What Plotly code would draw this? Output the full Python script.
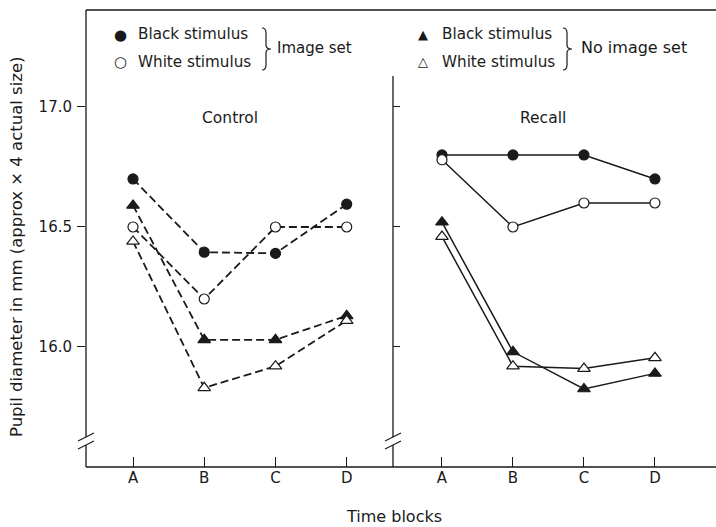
import plotly.graph_objects as go

# ---------------- data ----------------
blocks = ["A", "B", "C", "D"]
block_pos = [1, 2, 3, 4]

# Control panel (dashed lines)
control_black_circle = [16.70, 16.395, 16.39, 16.595]
control_white_circle = [16.50, 16.20, 16.50, 16.50]
control_black_triangle = [16.59, 16.03, 16.03, 16.13]
control_white_triangle = [16.44, 15.83, 15.92, 16.11]

# Recall panel (solid lines)
recall_black_circle = [16.80, 16.80, 16.80, 16.70]
recall_white_circle = [16.78, 16.50, 16.60, 16.60]
recall_black_triangle = [16.52, 15.98, 15.825, 15.89]
recall_white_triangle = [16.46, 15.92, 15.91, 15.955]

y_tick_vals = [16.0, 16.5, 17.0]
y_tick_text = ["16.0", "16.5", "17.0"]

# ---------------- layout helpers (pixels -> paper) ----------------
W, H = 716, 527
L, R, T, B = 86, 0, 10, 60
PW, PH = W - L - R, H - T - B
def xp(px):
    return (px - L) / PW
def yp(py):
    return (H - B - py) / PH

INK = "#1a1a1a"
FONT = "DejaVu Sans"

fig = go.Figure()

series = [
    ("x", "y", control_black_circle, "circle", INK, "dash"),
    ("x", "y", control_white_circle, "circle", "white", "dash"),
    ("x", "y", control_black_triangle, "triangle-up", INK, "dash"),
    ("x", "y", control_white_triangle, "triangle-up", "white", "dash"),
    ("x2", "y2", recall_black_circle, "circle", INK, "solid"),
    ("x2", "y2", recall_white_circle, "circle", "white", "solid"),
    ("x2", "y2", recall_black_triangle, "triangle-up", INK, "solid"),
    ("x2", "y2", recall_white_triangle, "triangle-up", "white", "solid"),
]

# lines first
for xa, ya, vals, sym, fill, dash in series:
    fig.add_trace(go.Scatter(
        x=block_pos, y=vals, xaxis=xa, yaxis=ya, mode="lines",
        line=dict(color=INK, width=1.8 if dash == "dash" else 1.5,
                  dash="8px,4px" if dash == "dash" else "solid"),
        showlegend=False, hoverinfo="skip"))
# markers on top
for xa, ya, vals, sym, fill, dash in series:
    fig.add_trace(go.Scatter(
        x=block_pos, y=vals, xaxis=xa, yaxis=ya, mode="markers",
        marker=dict(symbol=sym, size=10 if sym == "circle" else 11,
                    color=fill, line=dict(color=INK, width=1.2)),
        showlegend=False))

shapes = []
def seg(x0, y0, x1, y1, w=1.3):
    shapes.append(dict(type="line", xref="paper", yref="paper",
                       x0=xp(x0), y0=yp(y0), x1=xp(x1), y1=yp(y1),
                       line=dict(color=INK, width=w)))

# frame
seg(86, 10, 716, 10)          # top
seg(86, 467, 716, 467)        # bottom
seg(86, 10, 86, 437)          # left upper
seg(86, 445, 86, 467)         # left lower
seg(393, 76, 393, 437)        # divider upper
seg(393, 445, 393, 467)       # divider lower
# axis breaks
for cx in (86, 393):
    seg(cx - 8, 441, cx + 8, 433, 1.1)
    seg(cx - 8, 449, cx + 8, 441, 1.1)

# braces
def brace(x, ytop, ybot, depth=5):
    ym = (ytop + ybot) / 2
    pts = [
        ("M", x - 1, ytop),
        ("Q", x + 3, ytop, x + 3, ytop + 5),
        ("L", x + 3, ym - 4),
        ("Q", x + 3, ym, x + 3 + depth, ym),
        ("Q", x + 3, ym, x + 3, ym + 4),
        ("L", x + 3, ybot - 5),
        ("Q", x + 3, ybot, x - 1, ybot),
    ]
    p = ""
    for item in pts:
        cmd = item[0]
        coords = item[1:]
        cs = []
        for i in range(0, len(coords), 2):
            cs.append(f"{xp(coords[i]):.5f},{yp(coords[i+1]):.5f}")
        p += cmd + " " + " ".join(cs) + " "
    shapes.append(dict(type="path", xref="paper", yref="paper", path=p.strip(),
                       line=dict(color=INK, width=1.2)))

brace(263, 28, 70)
brace(564, 28, 70)

annotations = []
def text(px, py, s, size=14, anchor="left", angle=0):
    annotations.append(dict(xref="paper", yref="paper", x=xp(px), y=yp(py),
                            text=s, showarrow=False, xanchor=anchor, yanchor="middle",
                            textangle=angle,
                            font=dict(family=FONT, size=size, color=INK)))

# legend symbols
text(120, 35, "●", 15, "center")
text(120, 62, "○", 15, "center")
text(423, 35, "▲", 13, "center")
text(423, 62, "△", 13, "center")
text(136, 34, "Black stimulus", 15.2)
text(136, 62, "White stimulus", 15.2)
text(440, 34, "Black stimulus", 15.2)
text(440, 62, "White stimulus", 15.2)
text(275, 48, "Image set", 15)
text(579, 48, "No image set", 16)
# panel labels
text(230, 118, "Control", 15.5, "center")
text(543, 118, "Recall", 15.5, "center")
# axis titles
text(394, 516, "Time blocks", 16, "center")
text(17, 247, "Pupil diameter in mm (approx × 4 actual size)", 16.5, "center", -90)

axis_font = dict(family=FONT, size=15, color=INK)
fig.update_layout(
    width=W, height=H,
    margin=dict(l=L, r=R, t=T, b=B),
    paper_bgcolor="white", plot_bgcolor="white",
    showlegend=False,
    shapes=shapes, annotations=annotations,
    xaxis=dict(domain=[0, 307 / 630], range=[0.34, 4.65], anchor="y",
               tickvals=block_pos, ticktext=blocks, ticks="inside", ticklen=10,
               tickcolor=INK, tickwidth=1.2, showline=False, showgrid=False,
               zeroline=False, tickfont=axis_font),
    xaxis2=dict(domain=[307 / 630, 1], range=[0.31, 4.86], anchor="y2",
                tickvals=block_pos, ticktext=blocks, ticks="inside", ticklen=10,
                tickcolor=INK, tickwidth=1.2, showline=False, showgrid=False,
                zeroline=False, tickfont=axis_font),
    yaxis=dict(domain=[0, 1], range=[15.5, 17.404], anchor="x",
               tickvals=y_tick_vals, ticktext=y_tick_text, ticks="outside",
               ticklen=8, tickcolor=INK, tickwidth=1.2, showline=False,
               showgrid=False, zeroline=False, tickfont=axis_font,
               ticklabelstandoff=2),
    yaxis2=dict(domain=[0, 1], range=[15.5, 17.404], anchor="x2",
                tickvals=y_tick_vals, ticks="inside", ticklen=7,
                tickcolor=INK, tickwidth=1.2, showticklabels=False,
                showline=False, showgrid=False, zeroline=False),
)

fig.write_html("out.html")
